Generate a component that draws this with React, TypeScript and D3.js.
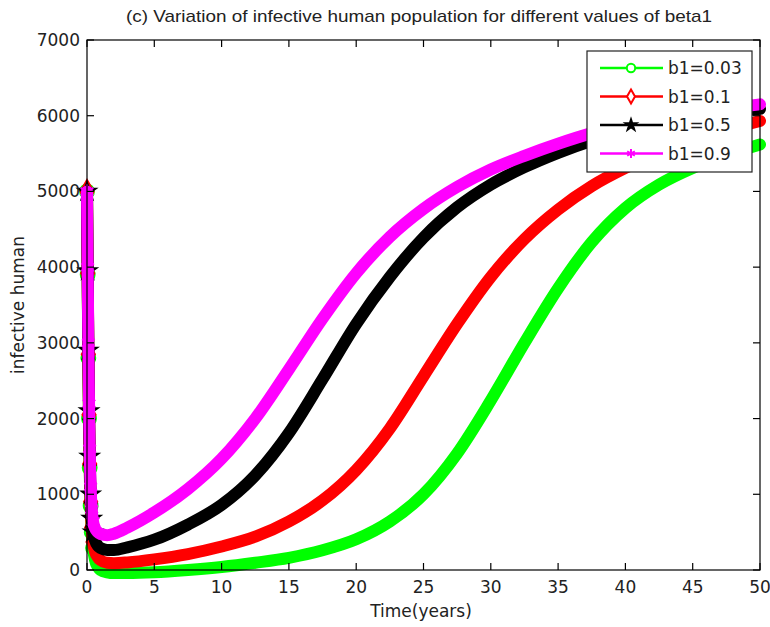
import React from "react";
import * as d3 from "d3";

const TIME = [0, 0.05, 0.1, 0.15, 0.2, 0.27, 0.35, 0.45, 0.6, 0.8, 1, 1.5, 2, 3, 5, 7.5, 10, 12.5, 15, 17.5, 20, 22.5, 25, 27.5, 30, 32.5, 35, 37.5, 40, 42.5, 45, 47.5, 50];

const B003 = [5000, 3900, 2800, 2000, 1350, 850, 500, 290, 130, 40, 0, -30, -40, -40, -30, 0, 40, 95, 160, 260, 405, 640, 1000, 1540, 2240, 3000, 3720, 4330, 4780, 5090, 5310, 5480, 5620];
const B01 = [5000, 3920, 2850, 2050, 1400, 900, 560, 370, 240, 170, 130, 95, 90, 100, 140, 210, 310, 440, 640, 920, 1320, 1870, 2560, 3250, 3870, 4370, 4760, 5070, 5310, 5510, 5670, 5810, 5930];
const B05 = [5000, 3950, 2900, 2100, 1500, 1000, 680, 500, 390, 320, 290, 265, 265, 300, 400, 600, 860, 1250, 1810, 2520, 3250, 3870, 4390, 4790, 5090, 5320, 5510, 5670, 5800, 5900, 5980, 6040, 6090];
const B09 = [5000, 4000, 3000, 2200, 1600, 1100, 800, 640, 550, 500, 475, 460, 480, 560, 760, 1070, 1470, 2000, 2650, 3320, 3920, 4400, 4770, 5060, 5290, 5470, 5630, 5770, 5880, 5970, 6040, 6100, 6150];

const LABELS = ["b1=0.03", "b1=0.1", "b1=0.5", "b1=0.9"];
const COLORS = ["#00ff00", "#ff0000", "#000000", "#ff00ff"];
const SERIES = [B003, B01, B05, B09];
const SYMBOLS = [d3.symbolCircle, d3.symbolDiamond, d3.symbolStar, d3.symbolAsterisk];

const X_TICKS = [0, 5, 10, 15, 20, 25, 30, 35, 40, 45, 50];
const Y_TICKS = [0, 1000, 2000, 3000, 4000, 5000, 6000, 7000];

const TITLE = "(c) Variation of infective human population for different values of beta1";

export default function App() {
  const W = 770, H = 627;
  const L = 87, R = 760, T = 40, B = 570;
  const x = d3.scaleLinear().domain([0, 50]).range([L, R]);
  const y = d3.scaleLinear().domain([0, 7000]).range([B, T]);
  const line = d3
    .line<number>()
    .x((_, i) => x(TIME[i]))
    .y((d) => y(d))
    .curve(d3.curveMonotoneX);
  const font = "'DejaVu Sans', sans-serif";
  const tickLen = 7;
  const legX = 587, legY = 51, legW = 165, legH = 121;
  const rowY = (i: number) => legY + 17 + i * 28.5;

  return (
    <svg width={W} height={H} style={{ position: "absolute", left: 0, top: 0, background: "#fff" }}>
      <rect x={0} y={0} width={W} height={H} fill="#fff" />
      {SERIES.map((s, k) => (
        <g key={k}>
          <path d={line(s) || ""} fill="none" stroke={COLORS[k]} strokeWidth={12} strokeLinecap="round" strokeLinejoin="round" />
          {s.map((v, i) =>
            TIME[i] <= 0.45 ? (
              <path
                key={i}
                d={d3.symbol().type(SYMBOLS[k]).size(k === 2 ? 90 : 150)() || ""}
                transform={`translate(${x(TIME[i])},${y(v)})`}
                fill={k === 0 || k === 1 ? "none" : COLORS[k]}
                stroke={COLORS[k]}
                strokeWidth={2}
              />
            ) : null
          )}
        </g>
      ))}
      <rect x={L} y={T} width={R - L} height={B - T} fill="none" stroke="#000" strokeWidth={1.2} />
      {X_TICKS.map((t) => (
        <g key={"x" + t}>
          <line x1={x(t)} x2={x(t)} y1={B} y2={B - tickLen} stroke="#000" strokeWidth={1.2} />
          <line x1={x(t)} x2={x(t)} y1={T} y2={T + tickLen} stroke="#000" strokeWidth={1.2} />
          <text x={x(t)} y={B + 17} textAnchor="middle" dominantBaseline="central" fontFamily={font} fontSize={17} fill="#222">
            {t}
          </text>
        </g>
      ))}
      {Y_TICKS.map((t) => (
        <g key={"y" + t}>
          <line x1={L} x2={L + tickLen} y1={y(t)} y2={y(t)} stroke="#000" strokeWidth={1.2} />
          <line x1={R} x2={R - tickLen} y1={y(t)} y2={y(t)} stroke="#000" strokeWidth={1.2} />
          <text x={L - 7} y={y(t)} textAnchor="end" dominantBaseline="central" fontFamily={font} fontSize={17} fill="#222">
            {t}
          </text>
        </g>
      ))}
      <text x={419} y={16} textAnchor="middle" dominantBaseline="central" fontFamily="'Liberation Sans', Arial, sans-serif" fontSize={17} textLength={586} lengthAdjust="spacingAndGlyphs" fill="#222">
        {TITLE}
      </text>
      <text x={421} y={611} textAnchor="middle" dominantBaseline="central" fontFamily={font} fontSize={17} fill="#222">
        Time(years)
      </text>
      <text transform={`translate(18,${(T + B) / 2}) rotate(-90)`} textAnchor="middle" dominantBaseline="central" fontFamily={font} fontSize={17} fill="#222">
        infective human
      </text>
      <rect x={legX} y={legY} width={legW} height={legH} fill="#fff" stroke="#222" strokeWidth={1.2} />
      {LABELS.map((lab, k) => (
        <g key={lab}>
          <line x1={600} x2={663} y1={rowY(k)} y2={rowY(k)} stroke={COLORS[k]} strokeWidth={2.5} />
          <path
            d={d3.symbol().type(SYMBOLS[k]).size(k === 2 ? 35 : 55)() || ""}
            transform={`translate(631,${rowY(k)})`}
            fill={k === 0 || k === 1 ? "#fff" : COLORS[k]}
            stroke={COLORS[k]}
            strokeWidth={2}
          />
          <text x={668} y={rowY(k)} dominantBaseline="central" fontFamily={font} fontSize={17} fill="#222">
            {lab}
          </text>
        </g>
      ))}
    </svg>
  );
}
